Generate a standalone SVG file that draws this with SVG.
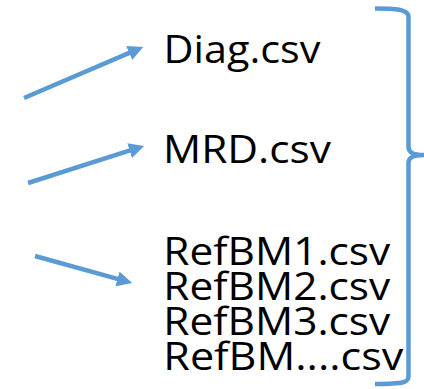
<svg xmlns="http://www.w3.org/2000/svg" width="424" height="389" viewBox="0 0 424 389">
<style>
text{font-family:"Open Sans","Noto Sans","Liberation Sans",sans-serif;font-size:39px;fill:#000}
text.list{font-size:38px}
.arr{stroke:#5B9BD5;stroke-width:4.5;fill:none;marker-end:url(#ah)}
.br{stroke:#5B9BD5;stroke-width:4.5;fill:none;stroke-linejoin:round}
</style>
<defs>
<marker id="ah" viewBox="0 0 10 10" refX="3" refY="5" markerWidth="3.4" markerHeight="3.4" orient="auto">
<path d="M0,0 L10,5 L0,10 z" fill="#5B9BD5"/>
</marker>
</defs>
<rect width="424" height="389" fill="#fff"/>
<g id="connectors">
<line class="arr" x1="24" y1="98" x2="133.4" y2="51.1"/>
<line class="arr" x1="28" y1="183" x2="134" y2="149.2"/>
<line class="arr" x1="35" y1="256" x2="121.9" y2="280.2"/>
</g>
<g id="diag"><text x="163.5" y="63" textLength="157" lengthAdjust="spacingAndGlyphs">Diag.csv</text></g>
<g id="mrd"><text x="163" y="163" textLength="168" lengthAdjust="spacingAndGlyphs">MRD.csv</text></g>
<g id="refbm">
<text class="list"><tspan x="163.3" y="265" textLength="227" lengthAdjust="spacingAndGlyphs">RefBM1.csv</tspan><tspan x="163.3" y="300" textLength="227" lengthAdjust="spacingAndGlyphs">RefBM2.csv</tspan><tspan x="163.3" y="335" textLength="227" lengthAdjust="spacingAndGlyphs">RefBM3.csv</tspan><tspan x="163.3" y="370" textLength="240" lengthAdjust="spacingAndGlyphs">RefBM....csv</tspan></text>
</g>
<g id="bracket">
<path class="br" d="M375,8.5 C395,8.5 408.5,9 408.5,17 L408.5,147 C408.5,152 412,155 424,155 C412,155 408.5,158 408.5,163 L408.5,376 C408.5,382 405,384 375,384"/>
</g>
</svg>
